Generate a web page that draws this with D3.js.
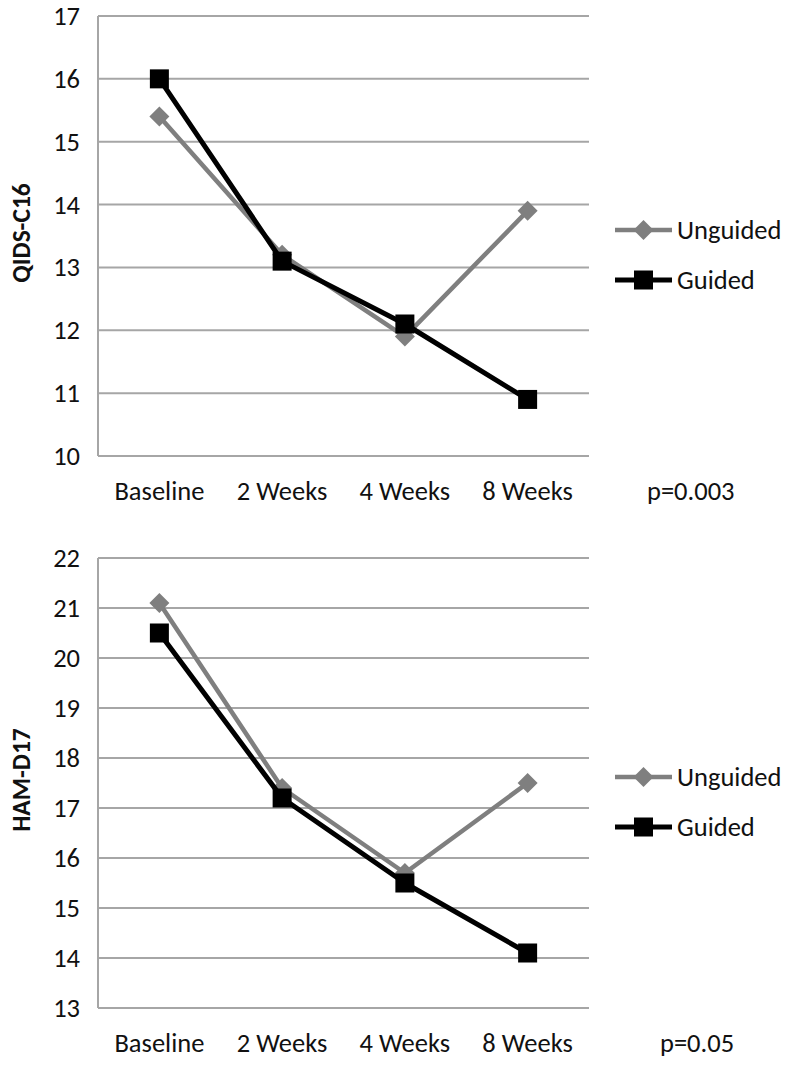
<!DOCTYPE html>
<html>
<head>
<meta charset="utf-8">
<script src="https://cdn.jsdelivr.net/npm/d3@7/dist/d3.min.js"></script>
<style>
  html, body { margin: 0; padding: 0; background: #fff; }
  svg { display: block; }
  text { font-family: Carlito, Lato, "Open Sans", sans-serif; fill: #111; }
</style>
</head>
<body>
<svg id="chart" width="792" height="1070"></svg>
<script>
// ---- Data ----
const categories = ["Baseline", "2 Weeks", "4 Weeks", "8 Weeks"];
const seriesNames = ["Unguided", "Guided"];

const qidsUnguided = [15.4, 13.2, 11.9, 13.9];
const qidsGuided   = [16.0, 13.1, 12.1, 10.9];
const qidsTicks    = [10, 11, 12, 13, 14, 15, 16, 17];

const hamUnguided  = [21.1, 17.4, 15.7, 17.5];
const hamGuided    = [20.5, 17.2, 15.5, 14.1];
const hamTicks     = [13, 14, 15, 16, 17, 18, 19, 20, 21, 22];

const panels = [
  { title: "QIDS-C16", ticks: qidsTicks, series: [qidsUnguided, qidsGuided], p: "p=0.003",
    top: 16, bottom: 456, pX: 647 },
  { title: "HAM-D17", ticks: hamTicks, series: [hamUnguided, hamGuided], p: "p=0.05",
    top: 558, bottom: 1008, pX: 660 }
];

const styles = [
  { color: "#7f7f7f", width: 4.5, marker: "diamond" },
  { color: "#000000", width: 5, marker: "square" }
];

const FS = "26.5px";
const svg = d3.select("#chart");
const left = 98, right = 589;

const x = d3.scaleBand().domain(categories).range([left, right]);

function drawMarker(g, type, cx, cy, color) {
  if (type === "square") {
    g.append("rect").attr("x", cx - 9.5).attr("y", cy - 9.5)
      .attr("width", 19).attr("height", 19).attr("fill", color);
  } else {
    const r = 10;
    g.append("path")
      .attr("d", `M${cx},${cy - r}L${cx + r},${cy}L${cx},${cy + r}L${cx - r},${cy}Z`)
      .attr("fill", color);
  }
}

panels.forEach(pn => {
  const y = d3.scaleLinear()
    .domain([d3.min(pn.ticks), d3.max(pn.ticks)])
    .range([pn.bottom, pn.top]);
  const g = svg.append("g");

  // gridlines
  g.selectAll(".grid").data(pn.ticks).join("line")
    .attr("x1", left).attr("x2", right)
    .attr("y1", d => y(d)).attr("y2", d => y(d))
    .attr("stroke", "#a6a6a6").attr("stroke-width", 2);

  // left axis line
  g.append("line")
    .attr("x1", left).attr("x2", left)
    .attr("y1", pn.top).attr("y2", pn.bottom)
    .attr("stroke", "#a6a6a6").attr("stroke-width", 2);

  // y tick labels
  const ya = d3.axisLeft(y).tickValues(pn.ticks).tickSize(0).tickPadding(18).tickFormat(d3.format("d"));
  const yg = g.append("g").attr("transform", `translate(${left},0)`).call(ya);
  yg.select(".domain").remove();
  yg.selectAll("text").style("font-size", FS).attr("fill", "#111")
    .style("font-family", "Carlito, Lato, 'Open Sans', sans-serif");

  // x labels
  const xa = d3.axisBottom(x).tickSize(0).tickPadding(0);
  const xg = g.append("g").attr("transform", `translate(0,${pn.bottom})`).call(xa);
  xg.select(".domain").remove();
  xg.selectAll("text").attr("dy", null).attr("y", 44)
    .style("font-size", FS).attr("fill", "#111")
    .style("font-family", "Carlito, Lato, 'Open Sans', sans-serif");

  // y title
  const mid = (pn.top + pn.bottom) / 2;
  g.append("text")
    .attr("transform", `translate(30,${mid - 3}) rotate(-90)`)
    .attr("text-anchor", "middle")
    .style("font-size", "25.5px").style("font-weight", "bold")
    .text(pn.title);

  // series
  const line = d3.line().x((d, i) => x(categories[i]) + x.bandwidth() / 2).y(d => y(d));
  pn.series.forEach((vals, si) => {
    const st = styles[si];
    const sg = g.append("g");
    sg.append("path").datum(vals).attr("d", line)
      .attr("fill", "none").attr("stroke", st.color)
      .attr("stroke-width", st.width).attr("stroke-linejoin", "round");
    vals.forEach((v, i) => drawMarker(sg, st.marker, x(categories[i]) + x.bandwidth() / 2, y(v), st.color));
  });

  // legend
  seriesNames.forEach((name, si) => {
    const st = styles[si];
    const ly = mid - 6 + si * 50;
    const lg = g.append("g");
    lg.append("line").attr("x1", 615).attr("x2", 672).attr("y1", ly).attr("y2", ly)
      .attr("stroke", st.color).attr("stroke-width", st.width);
    drawMarker(lg, st.marker, 643.5, ly, st.color);
    lg.append("text").attr("x", 677).attr("y", ly).attr("dy", "0.35em")
      .style("font-size", FS).text(name);
  });

  // p value
  g.append("text").attr("x", pn.pX).attr("y", pn.bottom + 44)
    .style("font-size", FS).text(pn.p);
});
</script>
</body>
</html>
